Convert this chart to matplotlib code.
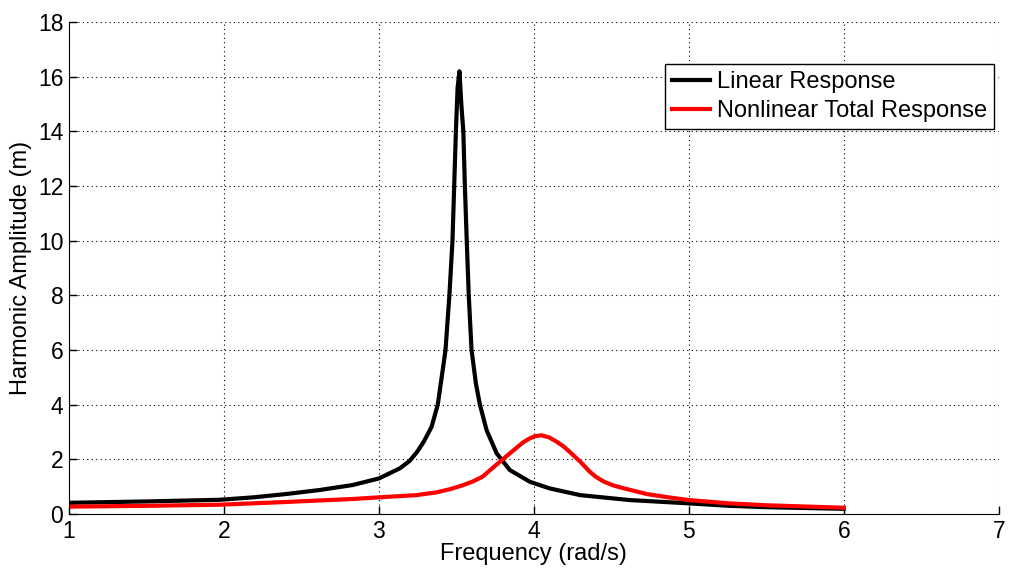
#harmonic amplitude vs frequency, linear vs nonlinear

import numpy as np
from matplotlib import pyplot as plt

#####################################data
freq_lin = [1.0, 1.5, 1.97, 2.19, 2.4, 2.62, 2.83, 3.0, 3.135, 3.20, 3.25, 3.29,
            3.34, 3.38, 3.415, 3.43, 3.455, 3.475, 3.486, 3.497, 3.508, 3.52,
            3.532, 3.545, 3.555, 3.567, 3.58, 3.598, 3.626, 3.652, 3.695, 3.76,
            3.845, 3.974, 4.10, 4.30, 4.62, 5.0, 5.26, 5.5, 6.0]
amp_lin = [0.41, 0.46, 0.52, 0.61, 0.73, 0.88, 1.06, 1.30, 1.67, 1.95, 2.3, 2.65,
           3.19, 4.0, 5.39, 6.0, 8.0, 10.0, 12.0, 14.0, 15.6, 16.2,
           15.0, 14.0, 12.0, 10.0, 8.0, 6.0, 4.78, 4.0, 3.07, 2.22,
           1.61, 1.18, 0.94, 0.69, 0.51, 0.39, 0.30, 0.25, 0.19]

freq_nl = [1.0, 1.5, 1.97, 2.4, 2.83, 3.0, 3.24, 3.37, 3.46, 3.54, 3.61, 3.67,
           3.755, 3.845, 3.93, 3.974, 4.01, 4.05, 4.10, 4.146, 4.19, 4.23, 4.30,
           4.36, 4.40, 4.45, 4.51, 4.58, 4.73, 4.88, 5.0, 5.26, 5.5, 6.0]
amp_nl = [0.27, 0.30, 0.34, 0.44, 0.55, 0.61, 0.69, 0.79, 0.91, 1.05, 1.2, 1.37,
          1.79, 2.22, 2.62, 2.77, 2.85, 2.88, 2.80, 2.65, 2.48, 2.28, 1.91,
          1.55, 1.36, 1.19, 1.05, 0.94, 0.73, 0.60, 0.51, 0.39, 0.32, 0.23]

xticks = [1, 2, 3, 4, 5, 6, 7]
yticks = [0, 2, 4, 6, 8, 10, 12, 14, 16, 18]

######################################plot
plt.rcParams['font.family'] = ['Liberation Sans', 'DejaVu Sans']

fig = plt.figure(figsize=(10.13, 5.74), dpi=100)
ax = fig.add_axes([0.068, 0.1045, 0.918, 0.857])

ax.plot(freq_lin, amp_lin, color='k', lw=3, label='Linear Response')
ax.plot(freq_nl, amp_nl, color='r', lw=3, label='Nonlinear Total Response')

ax.set_xlim(1, 7)
ax.set_ylim(0, 18)
ax.set_xticks(xticks)
ax.set_yticks(yticks)
ax.tick_params(direction='in', length=6, labelsize=16.5, width=1, pad=4)
ax.grid(True, color='k', linestyle=(0, (1, 3)), lw=0.8)
ax.spines['top'].set_visible(False)
ax.spines['right'].set_visible(False)

ax.set_xlabel('Frequency (rad/s)', fontsize=17, labelpad=0)
ax.set_ylabel('Harmonic Amplitude (m)', fontsize=17, labelpad=4)

leg = ax.legend(loc='upper right', bbox_to_anchor=(0.995, 0.915), fontsize=17,
                fancybox=False, framealpha=1, edgecolor='k', handlelength=1.6,
                handletextpad=0.3, borderpad=0.3, labelspacing=0.3,
                borderaxespad=0)
leg.get_frame().set_linewidth(1)

fig.savefig('out.png', dpi=100)
